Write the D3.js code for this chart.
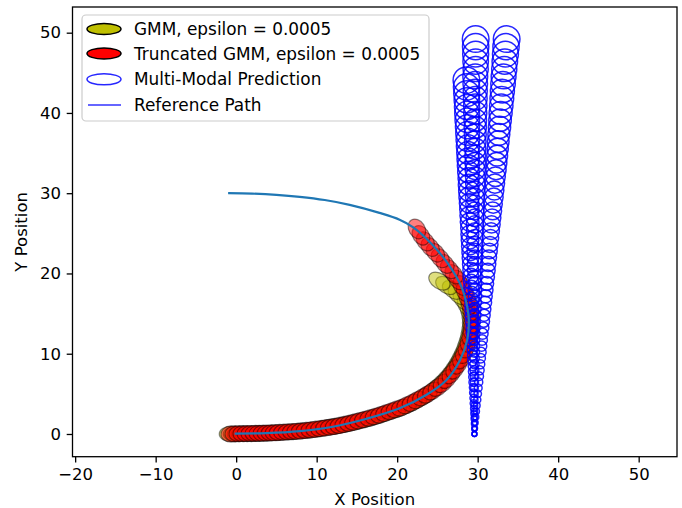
<!DOCTYPE html>
<html><head><meta charset="utf-8">
<script src="https://cdn.jsdelivr.net/npm/d3@7"></script>
<style>body{margin:0;background:#fff} text{font-family:"DejaVu Sans",sans-serif}</style>
</head><body><svg id="c" width="682" height="508"></svg>
<script>
// ---------------- data ----------------
const xTicks = [-20, -10, 0, 10, 20, 30, 40, 50];
const yTicks = [0, 10, 20, 30, 40, 50];
const legendLabels = ["GMM, epsilon = 0.0005", "Truncated GMM, epsilon = 0.0005", "Multi-Modal Prediction", "Reference Path"];

const referencePath = [[-1.0,30.0],[2,29.95],[5,29.8],[7.9,29.55],[11,29.15],[14.1,28.55],[17.8,27.55],[20.3,26.7],[22.0,25.75],[24.4,23.55],[26.5,20.95],[28.0,18.3],[28.7,15.85],[28.9,14.2],[28.7,11.7],[27.8,9.2],[26.1,6.7],[23.6,4.86],[20.3,3.2],[16.2,1.9],[12,0.9],[7.9,0.35],[3.75,0.1],[-0.2,0.05]];

// GMM (yellow) ellipse means
const gmmMeans = [[-0.65,0.0],[-0.15,0.0],[0.35,0.01],[0.85,0.02],[1.35,0.03],[1.85,0.04],[2.35,0.05],[2.85,0.06],[3.35,0.08],[3.85,0.1],[4.35,0.12],[4.85,0.14],[5.35,0.17],[5.9,0.2],[6.45,0.24],[7.0,0.28],[7.55,0.32],[8.1,0.37],[8.7,0.43],[9.3,0.5],[9.9,0.58],[10.5,0.67],[11.1,0.76],[11.7,0.85],[12.3,0.95],[12.9,1.06],[13.5,1.18],[14.1,1.31],[14.7,1.45],[15.3,1.6],[15.95,1.77],[16.6,1.95],[17.25,2.14],[17.9,2.34],[18.55,2.55],[19.2,2.78],[19.85,3.0],[20.5,3.23],[21.15,3.52],[21.8,3.82],[22.45,4.16],[23.05,4.5],[23.65,4.88],[24.25,5.3],[24.85,5.8],[25.5,6.35],[26.05,6.9],[26.55,7.5],[27.0,8.1],[27.42,8.75],[27.78,9.42],[28.12,10.12],[28.42,10.85],[28.67,11.6],[28.87,12.35],[29.0,13.1],[29.05,13.85],[29.0,14.6],[28.85,15.35],[28.55,16.05],[28.1,16.75],[27.55,17.35],[26.9,17.95],[26.1,18.5],[25.25,19.05]];

// Truncated GMM (red) ellipse means
const truncatedMeans = [[-0.6,0.0],[-0.1,0.02],[0.4,0.03],[0.9,0.04],[1.4,0.05],[1.9,0.06],[2.4,0.07],[2.9,0.08],[3.4,0.1],[3.9,0.12],[4.4,0.14],[4.9,0.16],[5.4,0.19],[5.95,0.23],[6.5,0.26],[7.05,0.3],[7.6,0.34],[8.15,0.38],[8.75,0.45],[9.35,0.52],[9.95,0.6],[10.55,0.68],[11.15,0.77],[11.75,0.86],[12.35,0.96],[12.95,1.08],[13.55,1.21],[14.15,1.35],[14.75,1.5],[15.35,1.66],[16.0,1.83],[16.65,2.01],[17.3,2.2],[17.95,2.4],[18.6,2.62],[19.25,2.85],[19.9,3.08],[20.55,3.3],[21.2,3.6],[21.85,3.9],[22.5,4.25],[23.15,4.6],[23.75,4.95],[24.4,5.35],[25.05,5.8],[25.65,6.3],[26.2,6.85],[26.7,7.45],[27.15,8.05],[27.6,8.7],[27.95,9.35],[28.3,10.05],[28.6,10.75],[28.85,11.5],[29.05,12.25],[29.2,13.0],[29.25,13.8],[29.25,14.6],[29.15,15.4],[28.95,16.2],[28.7,17.0],[28.4,17.75],[28.0,18.5],[27.55,19.2],[27.05,19.9],[26.5,20.55],[25.95,21.2],[25.35,21.9],[24.75,22.6],[24.1,23.3],[23.5,24.0],[22.95,24.75],[22.45,25.55]];

// Multi-modal prediction: circle radius per prediction step (shared by the modes)
const predRadius = [0.30,0.32,0.35,0.37,0.39,0.41,0.44,0.46,0.48,0.50,0.53,0.55,0.57,0.59,0.62,0.64,0.66,0.68,0.71,0.73,0.75,0.77,0.80,0.82,0.84,0.86,0.89,0.91,0.93,0.95,0.98,1.00,1.02,1.04,1.07,1.09,1.11,1.13,1.16,1.18,1.20,1.22,1.25,1.27,1.29,1.31,1.34,1.36,1.38,1.40,1.43,1.45,1.47,1.49,1.52,1.54,1.56,1.58,1.61,1.63,1.65];
// y of modes A and B (same progress)
const modeABY = [0,0.7,1.41,2.12,2.83,3.55,4.27,5.0,5.73,6.46,7.2,7.94,8.69,9.44,10.19,10.95,11.71,12.48,13.25,14.02,14.8,15.58,16.37,17.16,17.95,18.75,19.55,20.36,21.17,21.98,22.8,23.62,24.45,25.28,26.11,26.95,27.79,28.64,29.49,30.34,31.2,32.06,32.93,33.8,34.67,35.55,36.43,37.32,38.21,39.1,40.0,40.9,41.81,42.72,43.63,44.55,45.47,46.4,47.33,48.26,49.2];
const modeAX = [29.6,29.6,29.6,29.6,29.6,29.6,29.6,29.6,29.6,29.6,29.6,29.6,29.6,29.6,29.6,29.6,29.6,29.6,29.6,29.6,29.65,29.65,29.65,29.65,29.65,29.65,29.65,29.65,29.65,29.65,29.65,29.65,29.65,29.65,29.65,29.65,29.65,29.65,29.65,29.65,29.7,29.7,29.7,29.7,29.7,29.7,29.7,29.7,29.7,29.7,29.7,29.7,29.7,29.7,29.7,29.7,29.75,29.75,29.75,29.75,29.75];
const modeBX = [29.6,29.66,29.71,29.77,29.83,29.89,29.95,30.01,30.07,30.13,30.19,30.25,30.31,30.37,30.43,30.49,30.55,30.61,30.68,30.74,30.8,30.87,30.93,30.99,31.06,31.12,31.19,31.26,31.32,31.39,31.45,31.52,31.59,31.66,31.72,31.79,31.86,31.93,32.0,32.07,32.14,32.21,32.28,32.35,32.42,32.49,32.56,32.63,32.71,32.78,32.85,32.93,33.0,33.07,33.15,33.22,33.3,33.37,33.45,33.52,33.6];
const modeCX = [29.6,29.59,29.57,29.56,29.54,29.53,29.51,29.5,29.48,29.47,29.45,29.44,29.42,29.41,29.39,29.38,29.36,29.35,29.33,29.31,29.3,29.28,29.27,29.25,29.24,29.22,29.2,29.19,29.17,29.15,29.14,29.12,29.1,29.09,29.07,29.05,29.03,29.02,29.0,28.98,28.97,28.95,28.93,28.91,28.89,28.88,28.86,28.84,28.82,28.8,28.79,28.77,28.75,28.73,28.71,28.69,28.68,28.66,28.64,28.62,28.6];
const modeCY = [0,0.63,1.26,1.9,2.54,3.18,3.83,4.48,5.13,5.79,6.45,7.11,7.79,8.46,9.13,9.81,10.49,11.18,11.87,12.56,13.26,13.96,14.67,15.38,16.08,16.8,17.52,18.24,18.97,19.69,20.43,21.16,21.91,22.65,23.39,24.15,24.9,25.66,26.42,27.18,27.96,28.73,29.51,30.28,31.06,31.85,32.64,33.44,34.24,35.03,35.84,36.65,37.46,38.28,39.09,39.92,40.74,41.57,42.41,43.24,44.08];

// ellipse semi-axes (data units): along track, cross track
const gmmAxes = [1.45, 0.95];
const truncAxes = [1.3, 1.0];

// ---------------- drawing ----------------
const svg = d3.select("#c");
const M = {l:72.5, r:677, t:7, b:456.7};
const x = d3.scaleLinear().domain([-20.33, 54.76]).range([M.l, M.r]);
const y = d3.scaleLinear().domain([-2.83, 53.2]).range([M.b, M.t]);
const kx = x(1) - x(0), ky = y(0) - y(1);
const FS = 16.5, LFS = 16.9;

svg.append("defs").append("clipPath").attr("id","clip")
  .append("rect").attr("x",M.l).attr("y",M.t).attr("width",M.r-M.l).attr("height",M.b-M.t);
const plot = svg.append("g").attr("clip-path","url(#clip)");

function drawEllipses(means, axes, color, cls){
  const g = plot.append("g").attr("class", cls);
  means.forEach((p, i) => {
    const a = means[Math.max(0,i-1)], b = means[Math.min(means.length-1,i+1)];
    const ang = -Math.atan2((b[1]-a[1])*ky, (b[0]-a[0])*kx) * 180/Math.PI;
    const cx = x(p[0]), cy = y(p[1]);
    g.append("ellipse").attr("cx",cx).attr("cy",cy)
      .attr("rx",axes[0]*kx).attr("ry",axes[1]*ky)
      .attr("transform",`rotate(${ang} ${cx} ${cy})`)
      .attr("fill",color).attr("fill-opacity",0.5)
      .attr("stroke","#000").attr("stroke-opacity",0.45).attr("stroke-width",1.2);
  });
}
drawEllipses(gmmMeans, gmmAxes, "#bfbf00", "gmm");
drawEllipses(truncatedMeans, truncAxes, "#ff0000", "trunc");

const modes = [[modeAX, modeABY],[modeBX, modeABY],[modeCX, modeCY]];
const pg = plot.append("g");
modes.forEach(([mx,my]) => {
  pg.selectAll(null).data(d3.range(mx.length)).enter().append("ellipse")
    .attr("cx", i => x(mx[i])).attr("cy", i => y(my[i]))
    .attr("rx", i => predRadius[i]*kx).attr("ry", i => predRadius[i]*ky)
    .attr("fill","none").attr("stroke","#0000ff").attr("stroke-opacity",0.85).attr("stroke-width",1.5);
});

plot.append("path").datum(referencePath)
  .attr("d", d3.line().x(d=>x(d[0])).y(d=>y(d[1])).curve(d3.curveCatmullRom))
  .attr("fill","none").attr("stroke","#1f77b4").attr("stroke-width",2.2);

// axes
const xa = svg.append("g").attr("transform",`translate(0,${M.b})`)
  .call(d3.axisBottom(x).tickValues(xTicks).tickSize(5.8).tickPadding(5.8).tickSizeOuter(0));
const ya = svg.append("g").attr("transform",`translate(${M.l},0)`)
  .call(d3.axisLeft(y).tickValues(yTicks).tickSize(5.8).tickPadding(5.8).tickSizeOuter(0));
[xa,ya].forEach(a => {
  a.select(".domain").remove();
  a.selectAll("line").attr("stroke","#000").attr("stroke-width",1.3);
  a.selectAll("text").attr("font-size",FS).attr("fill","#000").style("font-family","DejaVu Sans");
});
svg.append("rect").attr("x",M.l).attr("y",M.t).attr("width",M.r-M.l).attr("height",M.b-M.t)
  .attr("fill","none").attr("stroke","#000").attr("stroke-width",1.3);

svg.append("text").attr("x",(M.l+M.r)/2).attr("y",505).attr("text-anchor","middle")
  .attr("font-size",FS).text("X Position");
svg.append("text").attr("transform",`translate(27,${(M.t+M.b)/2}) rotate(-90)`).attr("text-anchor","middle")
  .attr("font-size",FS).text("Y Position");

// legend
const lg = svg.append("g");
lg.append("rect").attr("x",82).attr("y",15).attr("width",347).attr("height",106).attr("rx",4)
  .attr("fill","#fff").attr("fill-opacity",0.8).attr("stroke","#cccccc").attr("stroke-width",1.2);
const rowsY = [29, 53.5, 79.3, 105];
const hx = 104;
lg.append("ellipse").attr("cx",hx).attr("cy",rowsY[0]).attr("rx",17).attr("ry",5.5)
  .attr("fill","#bfbf00").attr("stroke","#000").attr("stroke-width",1.5);
lg.append("ellipse").attr("cx",hx).attr("cy",rowsY[1]).attr("rx",17).attr("ry",5.5)
  .attr("fill","#ff0000").attr("stroke","#000").attr("stroke-width",1.5);
lg.append("ellipse").attr("cx",hx).attr("cy",rowsY[2]).attr("rx",17).attr("ry",5.5)
  .attr("fill","none").attr("stroke","#0000ff").attr("stroke-opacity",0.85).attr("stroke-width",1.5);
lg.append("line").attr("x1",88).attr("x2",121).attr("y1",rowsY[3]).attr("y2",rowsY[3])
  .attr("stroke","#0000ff").attr("stroke-opacity",0.8).attr("stroke-width",1.7);
legendLabels.forEach((t,i) => {
  lg.append("text").attr("x",134).attr("y",rowsY[i]).attr("dy","0.36em").attr("font-size",LFS).text(t);
});
</script></body></html>
